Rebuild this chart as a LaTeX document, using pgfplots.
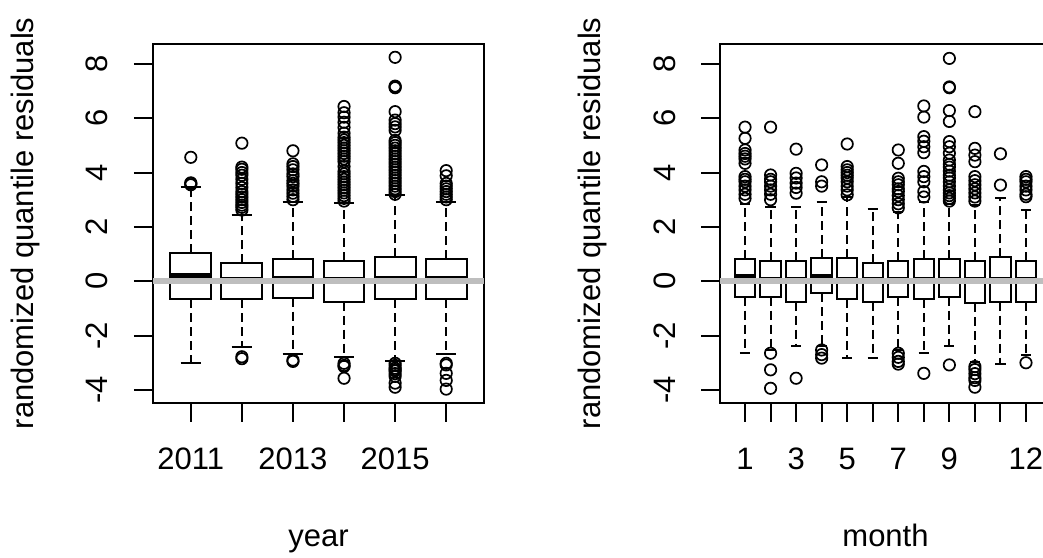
\documentclass[border=0pt]{standalone}
\usepackage{pgfplots}
\pgfplotsset{compat=1.18}
\usepgfplotslibrary{statistics}
\usepackage{fontspec}
\setmainfont{Liberation Sans}
\definecolor{rgray}{RGB}{190,190,190}
\newcommand{\bigfont}{\fontsize{31}{37}\selectfont}
\pgfplotsset{
  /pgfplots/boxplot/draw/lower whisker/.code={%
    \draw[black, line width=2pt, dash pattern=on 9pt off 5pt]
      (boxplot cs:\pgfplotsboxplotvalue{lower quartile}) --
      (boxplot cs:\pgfplotsboxplotvalue{lower whisker});
    \draw[black, line width=2pt]
      (boxplot whisker cs:\pgfplotsboxplotvalue{lower whisker},0) --
      (boxplot whisker cs:\pgfplotsboxplotvalue{lower whisker},1);
  },
  /pgfplots/boxplot/draw/upper whisker/.code={%
    \draw[black, line width=2pt, dash pattern=on 9pt off 5pt]
      (boxplot cs:\pgfplotsboxplotvalue{upper quartile}) --
      (boxplot cs:\pgfplotsboxplotvalue{upper whisker});
    \draw[black, line width=2pt]
      (boxplot whisker cs:\pgfplotsboxplotvalue{upper whisker},0) --
      (boxplot whisker cs:\pgfplotsboxplotvalue{upper whisker},1);
  },
  boxplot/draw direction=y,
  boxplot/box extend=0.8,
  boxplot/whisker extend=0.4,
  boxplot/every box/.style={draw=black, line width=2pt, fill=none},
  boxplot/every median/.style={draw=black, line width=6pt},
  bp/.style={black, solid, line width=2pt, mark=o, mark size=5.7pt,
    mark options={line width=1.7pt, solid, fill=none}},
  rplot/.style={
    scale only axis, width=331pt, height=358.7pt,
    anchor=south west,
    ymin=-4.47, ymax=8.73,
    ytick={-4,-2,0,2,4,6,8}, yticklabels={-4,-2,0,2,4,6,8},
    tick pos=left, tick align=outside, major tick length=19pt,
    every tick/.style={black, line width=2pt},
    axis line style={line width=2pt},
    tick label style={font=\bigfont},
    xticklabel style={anchor=base},
    xticklabel shift=47.6pt,
    yticklabel style={rotate=90, anchor=base},
    yticklabel shift=26pt,
    every axis y label/.style={at={(axis description cs:-0.3625,0.5)}, rotate=90, anchor=base, font=\bigfont},
    every axis x label/.style={at={(axis description cs:0.5,-0.4014)}, anchor=base, font=\bigfont},
    ylabel={randomized quantile residuals},
  }
}
\begin{document}
\begin{tikzpicture}[x=1pt,y=1pt]
\path[use as bounding box, clip] (0,0) rectangle (1043,557);
% ---------------- left panel: year ----------------
\begin{axis}[rplot, at={(153pt,154.3pt)},
  xmin=0.26, xmax=6.74, xtick={1,2,3,4,5,6},
  xticklabels={2011,,2013,,2015,}, xlabel={year}]
\addplot[bp, boxplot prepared={draw position=1, lower whisker=-3.0, lower quartile=-0.66, median=0.18, upper quartile=1.03, upper whisker=3.48}]
 table[row sep=\\, y index=0] {y\\ 4.56\\ 3.55\\ 3.6\\ 3.62\\};
\addplot[bp, boxplot prepared={draw position=2, lower whisker=-2.41, lower quartile=-0.66, median=0.06, upper quartile=0.66, upper whisker=2.44}]
 table[row sep=\\, y index=0] {y\\ 5.08\\ 4.2\\ 4.12\\ 4.0\\ 3.9\\ 3.75\\ 3.6\\ 3.45\\ 3.3\\ 3.2\\ 3.1\\ 3.0\\ 2.9\\ 2.8\\ 2.72\\ 2.62\\ -2.78\\ -2.85\\};
\addplot[bp, boxplot prepared={draw position=3, lower whisker=-2.68, lower quartile=-0.6, median=0.08, upper quartile=0.81, upper whisker=2.93}]
 table[row sep=\\, y index=0] {y\\ 4.8\\ 4.32\\ 4.22\\ 4.1\\ 3.95\\ 3.85\\ 3.7\\ 3.6\\ 3.5\\ 3.36\\ 3.24\\ 3.12\\ 3.0\\ -2.9\\ -2.95\\};
\addplot[bp, boxplot prepared={draw position=4, lower whisker=-2.78, lower quartile=-0.75, median=0.06, upper quartile=0.75, upper whisker=2.89}]
 table[row sep=\\, y index=0] {y\\ 6.43\\ 6.2\\ 6.04\\ 5.85\\ 5.66\\ 5.45\\ 5.3\\ 5.2\\ 5.1\\ 5.0\\ 4.9\\ 4.8\\ 4.7\\ 4.6\\ 4.5\\ 4.4\\ 4.22\\ 4.05\\ 3.95\\ 3.85\\ 3.75\\ 3.65\\ 3.55\\ 3.45\\ 3.35\\ 3.25\\ 3.15\\ 3.05\\ 2.95\\ -3.02\\ -3.1\\ -3.14\\ -3.57\\};
\addplot[bp, boxplot prepared={draw position=5, lower whisker=-2.92, lower quartile=-0.66, median=0.08, upper quartile=0.88, upper whisker=3.18}]
 table[row sep=\\, y index=0] {y\\ 8.24\\ 7.12\\ 7.15\\ 7.18\\ 6.24\\ 5.93\\ 5.8\\ 5.68\\ 5.55\\ 5.18\\ 5.1\\ 5.0\\ 4.9\\ 4.8\\ 4.7\\ 4.6\\ 4.5\\ 4.4\\ 4.3\\ 4.2\\ 4.1\\ 4.0\\ 3.9\\ 3.8\\ 3.7\\ 3.6\\ 3.5\\ 3.4\\ 3.3\\ 3.2\\ -3.02\\ -3.1\\ -3.2\\ -3.25\\ -3.3\\ -3.4\\ -3.5\\ -3.75\\ -3.9\\};
\addplot[bp, boxplot prepared={draw position=6, lower whisker=-2.68, lower quartile=-0.66, median=0.08, upper quartile=0.81, upper whisker=2.93}]
 table[row sep=\\, y index=0] {y\\ 4.07\\ 3.88\\ 3.6\\ 3.5\\ 3.4\\ 3.3\\ 3.2\\ 3.1\\ 3.0\\ -3.02\\ -3.08\\ -3.39\\ -3.65\\ -3.97\\};
\addplot[rgray, line width=6.5pt, forget plot] coordinates {(0.26,0) (6.74,0)};
\end{axis}
% ---------------- right panel: month ----------------
\begin{axis}[rplot, at={(720pt,154.3pt)},
  xmin=0.02, xmax=12.98, xtick={1,2,3,4,5,6,7,8,9,10,11,12},
  xticklabels={1,,3,,5,,7,,9,,,12}, xlabel={month}]
\addplot[bp, boxplot prepared={draw position=1, lower whisker=-2.65, lower quartile=-0.57, median=0.15, upper quartile=0.81, upper whisker=2.85}]
 table[row sep=\\, y index=0] {y\\ 5.67\\ 5.26\\ 4.83\\ 4.7\\ 4.6\\ 4.5\\ 4.34\\ 3.85\\ 3.75\\ 3.66\\ 3.5\\ 3.36\\ 3.2\\ 3.05\\};
\addplot[bp, boxplot prepared={draw position=2, lower whisker=-2.53, lower quartile=-0.57, median=0.06, upper quartile=0.75, upper whisker=2.75}]
 table[row sep=\\, y index=0] {y\\ 5.67\\ 3.91\\ 3.75\\ 3.66\\ 3.5\\ 3.36\\ 3.2\\ 3.0\\ -2.65\\ -3.26\\ -3.94\\};
\addplot[bp, boxplot prepared={draw position=3, lower whisker=-2.38, lower quartile=-0.75, median=0.06, upper quartile=0.75, upper whisker=2.75}]
 table[row sep=\\, y index=0] {y\\ 4.86\\ 3.97\\ 3.8\\ 3.61\\ 3.45\\ 3.24\\ -3.57\\};
\addplot[bp, boxplot prepared={draw position=4, lower whisker=-2.38, lower quartile=-0.44, median=0.15, upper quartile=0.87, upper whisker=2.93}]
 table[row sep=\\, y index=0] {y\\ 4.28\\ 3.66\\ 3.5\\ -2.53\\ -2.7\\ -2.83\\};
\addplot[bp, boxplot prepared={draw position=5, lower whisker=-2.83, lower quartile=-0.66, median=0.06, upper quartile=0.87, upper whisker=3.11}]
 table[row sep=\\, y index=0] {y\\ 5.05\\ 4.22\\ 4.1\\ 4.0\\ 3.9\\ 3.8\\ 3.66\\ 3.5\\ 3.36\\ 3.18\\};
\addplot[bp, boxplot prepared={draw position=6, lower whisker=-2.83, lower quartile=-0.75, median=0.06, upper quartile=0.66, upper whisker=2.65}]
 coordinates {};
\addplot[bp, boxplot prepared={draw position=7, lower whisker=-2.53, lower quartile=-0.57, median=0.06, upper quartile=0.75, upper whisker=2.56}]
 table[row sep=\\, y index=0] {y\\ 4.83\\ 4.34\\ 3.79\\ 3.66\\ 3.55\\ 3.4\\ 3.3\\ 3.15\\ 3.0\\ 2.85\\ 2.7\\ -2.65\\ -2.8\\ -2.95\\ -3.05\\};
\addplot[bp, boxplot prepared={draw position=8, lower whisker=-2.63, lower quartile=-0.66, median=0.06, upper quartile=0.81, upper whisker=2.93}]
 table[row sep=\\, y index=0] {y\\ 6.45\\ 6.04\\ 5.32\\ 5.15\\ 4.95\\ 4.73\\ 4.04\\ 3.85\\ 3.66\\ 3.3\\ 3.1\\ -3.39\\};
\addplot[bp, boxplot prepared={draw position=9, lower whisker=-2.38, lower quartile=-0.57, median=0.06, upper quartile=0.81, upper whisker=2.86}]
 table[row sep=\\, y index=0] {y\\ 8.2\\ 7.15\\ 7.12\\ 6.28\\ 5.88\\ 5.14\\ 4.95\\ 4.71\\ 4.46\\ 4.3\\ 4.2\\ 4.05\\ 3.9\\ 3.8\\ 3.66\\ 3.5\\ 3.36\\ 3.25\\ 3.15\\ 3.05\\ 2.95\\ -3.08\\};
\addplot[bp, boxplot prepared={draw position=10, lower whisker=-2.96, lower quartile=-0.81, median=0.06, upper quartile=0.75, upper whisker=2.8}]
 table[row sep=\\, y index=0] {y\\ 6.24\\ 4.89\\ 4.64\\ 4.4\\ 3.85\\ 3.7\\ 3.55\\ 3.4\\ 3.25\\ 3.1\\ 2.95\\ -3.14\\ -3.25\\ -3.4\\ -3.55\\ -3.65\\ -3.9\\};
\addplot[bp, boxplot prepared={draw position=11, lower whisker=-3.06, lower quartile=-0.75, median=0.06, upper quartile=0.88, upper whisker=3.08}]
 table[row sep=\\, y index=0] {y\\ 4.69\\ 3.54\\};
\addplot[bp, boxplot prepared={draw position=12, lower whisker=-2.72, lower quartile=-0.75, median=0.06, upper quartile=0.75, upper whisker=2.63}]
 table[row sep=\\, y index=0] {y\\ 3.85\\ 3.75\\ 3.66\\ 3.5\\ 3.36\\ 3.2\\ 3.11\\ -3.0\\};
\addplot[rgray, line width=6.5pt, forget plot] coordinates {(0.02,0) (12.98,0)};
\end{axis}
\end{tikzpicture}
\end{document}
